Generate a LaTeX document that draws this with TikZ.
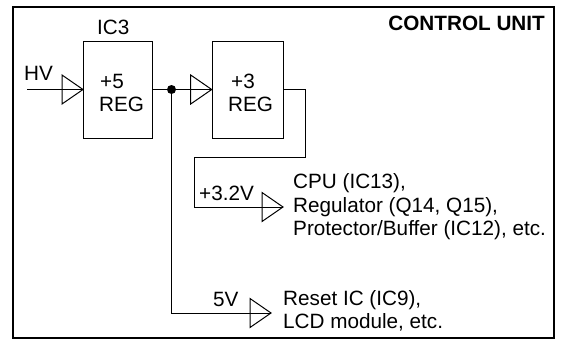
\documentclass[tikz,border=0pt]{standalone}
\usepackage{fontspec}
\setmainfont{Liberation Sans}
\tikzset{
  lbl/.style={font=\fontsize{20.7}{23.5}\selectfont, inner sep=0pt, anchor=base west},
  title/.style={font=\fontsize{20.7}{23.5}\selectfont\bfseries, inner sep=0pt, anchor=base east},
  regbox/.style={draw, line width=1pt, minimum height=97pt, inner sep=0pt},
  wire/.style={line width=1pt},
  frame/.style={line width=2pt},
  pics/buffer/.style={code={\draw[line width=1pt, line join=miter] (-21,-14.5) -- (0,0) -- (-21,14.5) -- cycle;}}
}
\begin{document}
\begin{tikzpicture}[x=1pt, y=-1pt]
\useasboundingbox (0,0) rectangle (561,351);
\draw[frame] (13,7) rectangle (553.5,337.5);
\node[title] (cu) at (545,30) {CONTROL UNIT};

\node[regbox, minimum width=69pt] (reg5) at (118,89.5) {};
\node[regbox, minimum width=71pt] (reg3) at (247.7,89.5) {};
\node[lbl] (ic3) at (97,34) {IC3};
\node[lbl] (p5) at (100,88) {+5};
\node[lbl] (r5) at (99,111) {REG};
\node[lbl] (p3) at (231,88) {+3};
\node[lbl] (r3) at (228,111) {REG};
\node[lbl] (hv) at (24,80.5) {HV};

\coordinate (hvin) at (27,89.5);
\coordinate (dot) at (171.5,89.5);
\coordinate (c1) at (305,89.5);
\coordinate (c2) at (305,157);
\coordinate (c3) at (194,157);
\coordinate (c4) at (194,207);
\coordinate (t1) at (283,207);
\coordinate (c5) at (171.5,313);
\coordinate (t2) at (271,313);

\draw[wire] (hvin) -- (reg5.west);
\pic at (reg5.west) {buffer};
\draw[wire] (reg5.east) -- (dot) -- (reg3.west);
\pic at (reg3.west) {buffer};
\fill (dot) circle (4.5);
\draw[wire] (reg3.east) -- (c1) -- (c2) -- (c3) -- (c4) -- (t1);
\pic at (t1) {buffer};
\draw[wire] (dot) -- (c5) -- (t2);
\pic at (t2) {buffer};

\node[lbl] (v32) at (199,200) {+3.2V};
\node[lbl] (cpu1) at (293,188.5) {CPU (IC13),};
\node[lbl] (cpu2) at (293,212) {Regulator (Q14, Q15),};
\node[lbl] (cpu3) at (293,235.5) {Protector/Buffer (IC12), etc.};
\node[lbl] (v5) at (213,306.5) {5V};
\node[lbl] (rst1) at (283,305.5) {Reset IC (IC9),};
\node[lbl] (rst2) at (283,328.5) {LCD module, etc.};
\end{tikzpicture}
\end{document}
